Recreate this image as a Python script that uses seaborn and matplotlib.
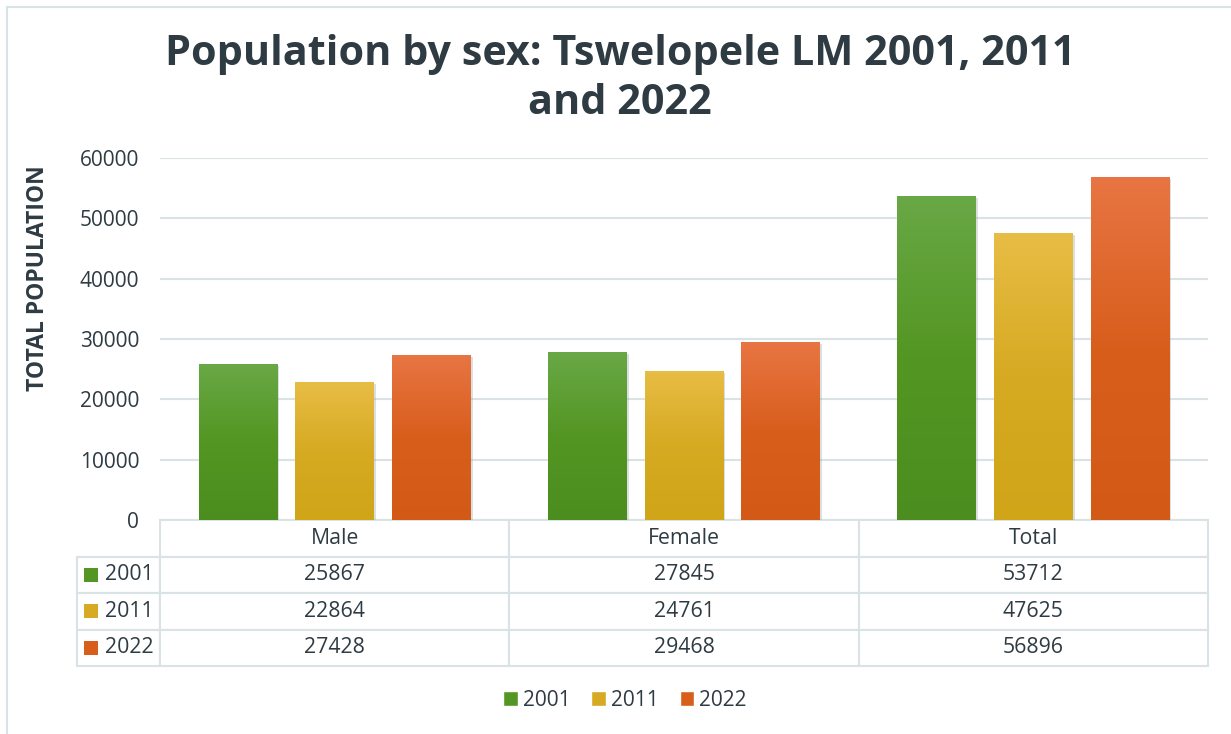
import numpy as np
import pandas as pd
import matplotlib
matplotlib.use("Agg")
import matplotlib.pyplot as plt
import matplotlib.patheffects as pe
from matplotlib.colors import LinearSegmentedColormap, to_rgb
import seaborn as sns

# ---- data ----
categories = ["Male", "Female", "Total"]
years = ["2001", "2011", "2022"]
pop_2001 = [25867, 27845, 53712]
pop_2011 = [22864, 24761, 47625]
pop_2022 = [27428, 29468, 56896]
yticks = [0, 10000, 20000, 30000, 40000, 50000, 60000]

title = "Population by sex: Tswelopele LM 2001, 2011\nand 2022"
ylabel = "TOTAL POPULATION"

# ---- styles ----
base_colors = ["#549623", "#d6aa22", "#d85e1c"]
top_colors = ["#69a846", "#e8bd45", "#e87543"]
bot_colors = ["#4b8e1f", "#d0a518", "#d35a16"]
text_color = "#2e3b42"
line_color = "#d9e3e6"
FONT = "Open Sans"

sns.set_theme(style="white")
plt.rcParams["font.family"] = [FONT, "DejaVu Sans"]

W, H = 1231, 734
fig = plt.figure(figsize=(W / 100, H / 100), dpi=100)

# axes in pixel layout
L, R, T, B = 160, 1208, 158, 520
ax = fig.add_axes([L / W, 1 - B / H, (R - L) / W, (B - T) / H])

df = pd.DataFrame({
    "sex": categories * 3,
    "year": [years[0]] * 3 + [years[1]] * 3 + [years[2]] * 3,
    "population": pop_2001 + pop_2011 + pop_2022,
})

sns.barplot(data=df, x="sex", y="population", hue="year", order=categories,
            hue_order=years, palette=base_colors, width=0.83, gap=0.185,
            saturation=1, ax=ax, legend=True, err_kws={"linewidth": 0})

# gradient fill + soft shadow for bars
cmaps = [LinearSegmentedColormap.from_list("g%d" % i, [bot_colors[i], base_colors[i], top_colors[i]])
         for i in range(3)]
grad = np.linspace(0, 1, 256).reshape(-1, 1)
for p in list(ax.patches):
    fc = np.array(p.get_facecolor()[:3])
    idx = int(np.argmin([np.sum((fc - np.array(to_rgb(c))) ** 2) for c in base_colors]))
    x0, y0 = p.get_x(), p.get_y()
    w, h = p.get_width(), p.get_height()
    if h <= 0:
        continue
    p.set_path_effects([pe.SimplePatchShadow(offset=(1.5, -1.5), shadow_rgbFace="#9aa4a8", alpha=0.35),
                        pe.Normal()])
    p.set_edgecolor("none")
    im = ax.imshow(grad, extent=[x0, x0 + w, y0, y0 + h], origin="lower", cmap=cmaps[idx],
                   aspect="auto", zorder=p.get_zorder() + 0.1, interpolation="bilinear")
    im.set_clip_path(p)

ax.set_xlim(-0.5, 2.5)
ax.set_ylim(0, 60000)
ax.set_yticks(yticks)
ax.set_yticklabels([str(v) for v in yticks])
ax.yaxis.grid(True, color=line_color, linewidth=1.5)
ax.set_axisbelow(True)
for s in ax.spines.values():
    s.set_visible(False)
ax.tick_params(axis="x", labelbottom=False, length=0)
ax.tick_params(axis="y", length=0, pad=15, labelsize=15, labelcolor=text_color)
ax.set_xlabel("")
ax.set_ylabel("")

# ---- data table ----
rows = [pop_2001, pop_2011, pop_2022]
lab_w = 83
tot_h = 146
tab = ax.table(cellText=[[str(v) for v in r] for r in rows], rowLabels=years,
               colLabels=categories, cellLoc="center", rowLoc="right", colLoc="center",
               bbox=[0, -tot_h / (B - T), 1, tot_h / (B - T)])
tab.auto_set_font_size(False)
tab.set_fontsize(15.3)
tab._autoColumns = []
for key, cell in tab.get_celld().items():
    cell.set_edgecolor(line_color)
    cell.set_linewidth(1.5)
    cell.get_text().set_color(text_color)
    if key[1] == -1:
        cell.set_width(lab_w / (R - L))
        cell.PAD = 0.08

# colour swatches in the row-label column
sw_x = (91.5 - L) / (R - L)
for i in range(3):
    yc = B + tot_h / 4 * (i + 1.5)
    ax.scatter([sw_x], [(B - yc) / (B - T)], marker="s", s=88, color=base_colors[i],
               transform=ax.transAxes, clip_on=False, linewidths=0, zorder=5)

# ---- legend ----
sns.move_legend(ax, loc="center", bbox_to_anchor=((625 - L) / (R - L), (B - 700) / (B - T)),
                ncol=3, frameon=False, title=None, fontsize=15, handlelength=0.7,
                handleheight=0.7, handletextpad=0.25, columnspacing=1.0)
for t in ax.get_legend().get_texts():
    t.set_color(text_color)

# ---- titles ----
fig.text(620 / W, 1 - 79 / H, title, ha="center", va="center", fontsize=29.8,
         fontweight="bold", color=text_color, linespacing=1.25)
fig.text(38 / W, 1 - 278 / H, ylabel, ha="center", va="center", rotation=90,
         fontsize=16.5, fontweight="bold", color=text_color)

# outer chart border
fig.add_artist(plt.Line2D([7 / W, 7 / W], [0, 1 - 7 / H], transform=fig.transFigure,
                          color=line_color, linewidth=1.5))
fig.add_artist(plt.Line2D([7 / W, 1], [1 - 7 / H, 1 - 7 / H], transform=fig.transFigure,
                          color=line_color, linewidth=1.5))

fig.savefig("out.png", dpi=100, facecolor="white")
